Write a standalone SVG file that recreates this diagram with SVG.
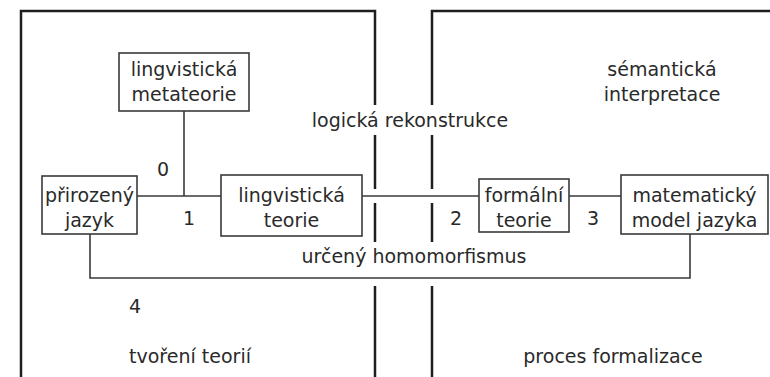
<svg xmlns="http://www.w3.org/2000/svg" width="770" height="377" viewBox="0 0 770 377">
  <style>
    .frame { fill: none; stroke: #1e1e1e; stroke-width: 2.5; }
    .box { fill: #ffffff; stroke: #3a3a3a; stroke-width: 1.6; }
    .link { fill: none; stroke: #3a3a3a; stroke-width: 1.6; }
    text { font-family: "DejaVu Sans", "Liberation Sans", sans-serif; font-size: 19px; fill: #2a2a2a; text-anchor: middle; }
  </style>
  <rect width="770" height="377" fill="#ffffff"/>

  <!-- two open frames: theory building (left) and formalisation (right) -->
  <g id="frames">
    <path class="frame" d="M21,377 V11 H375 V105 M375,135 V189 M375,203 V242 M375,286 V377"/>
    <path class="frame" d="M770,11 H432 V105 M432,135 V189 M432,203 V242 M432,286 V377"/>
  </g>

  <!-- connectors -->
  <g id="connectors">
    <path class="link" d="M184,111 V196"/>
    <path class="link" d="M137,196 H221"/>
    <path class="link" d="M362,196 H479"/>
    <path class="link" d="M569,196 H621"/>
    <path class="link" d="M90,234 V278 H690 V234"/>
  </g>

  <g id="metateorie">
    <rect class="box" x="119" y="53" width="130" height="58"/>
    <text x="184" y="76">lingvistická</text>
    <text x="184" y="101">metateorie</text>
  </g>

  <g id="prirozeny-jazyk">
    <rect class="box" x="42" y="176" width="95" height="58"/>
    <text x="89.5" y="202">přirozený</text>
    <text x="89.5" y="227">jazyk</text>
  </g>

  <g id="lingvisticka-teorie">
    <rect class="box" x="221" y="175" width="141" height="61"/>
    <text x="291.5" y="202">lingvistická</text>
    <text x="291.5" y="227">teorie</text>
  </g>

  <g id="formalni-teorie">
    <rect class="box" x="479" y="179" width="90" height="53"/>
    <text x="524" y="202">formální</text>
    <text x="524" y="227">teorie</text>
  </g>

  <g id="matematicky-model">
    <rect class="box" x="621" y="175" width="147" height="59"/>
    <text x="694.5" y="202">matematický</text>
    <text x="694.5" y="227">model jazyka</text>
  </g>

  <!-- labels -->
  <g id="labels">
    <text x="163" y="176">0</text>
    <text x="189" y="225">1</text>
    <text x="456" y="225">2</text>
    <text x="593" y="225">3</text>
    <text x="135" y="313">4</text>
    <text x="410" y="127">logická rekonstrukce</text>
    <text x="662" y="76">sémantická</text>
    <text x="662" y="101">interpretace</text>
    <text x="414" y="263">určený homomorfismus</text>
    <text x="190" y="363">tvoření teorií</text>
    <text x="613" y="363">proces formalizace</text>
  </g>
</svg>
